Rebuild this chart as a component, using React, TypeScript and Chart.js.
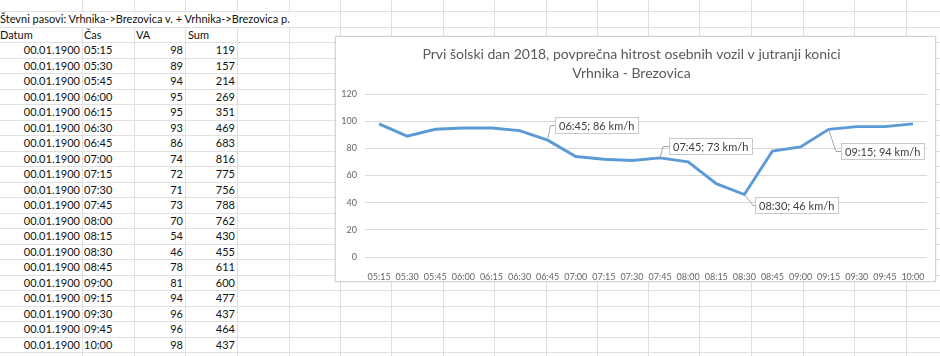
import React, { useEffect, useRef } from "react";
import { Chart, registerables } from "chart.js";

Chart.register(...registerables);

// ---------- data ----------
const sheetTitle = "Števni pasovi: Vrhnika->Brezovica v. + Vrhnika->Brezovica p.";
const headers = ["Datum", "Čas", "VA", "Sum"];
const dateText = "00.01.1900";
const times = [
  "05:15", "05:30", "05:45", "06:00", "06:15", "06:30", "06:45", "07:00", "07:15", "07:30",
  "07:45", "08:00", "08:15", "08:30", "08:45", "09:00", "09:15", "09:30", "09:45", "10:00",
];
const speeds = [98, 89, 94, 95, 95, 93, 86, 74, 72, 71, 73, 70, 54, 46, 78, 81, 94, 96, 96, 98];
const sums = [119, 157, 214, 269, 351, 469, 683, 816, 775, 756, 788, 762, 430, 455, 611, 600, 477, 437, 464, 437];
const chartTitle = [
  "Prvi šolski dan 2018, povprečna hitrost osebnih vozil v jutranji konici",
  "Vrhnika - Brezovica",
];
const yMin = 0;
const yMax = 120;
const yStep = 20;
const labeledTimes = ["06:45", "07:45", "08:30", "09:15"];
const unit = "km/h";

// ---------- styles ----------
const FONT = "Lato, 'Open Sans', sans-serif";
const calloutStyles = [
  { dx: 7.6, dy: -14.7, gap: 4.5 },
  { dx: 9.3, dy: -11.9, gap: 6 },
  { dx: 10.6, dy: 10.6, gap: 2 },
  { dx: 12.3, dy: 22, gap: 5 },
];

const calloutPlugin = {
  id: "callouts",
  afterDatasetsDraw(chart: any) {
    const ctx = chart.ctx as CanvasRenderingContext2D;
    const meta = chart.getDatasetMeta(0);
    ctx.save();
    ctx.font = `11px ${FONT}`;
    labeledTimes.forEach((t, j) => {
      const i = times.indexOf(t);
      const pt = meta.data[i];
      const st = calloutStyles[j];
      const text = `${times[i]}; ${speeds[i]} ${unit}`;
      const padX = 4;
      const w = Math.round(ctx.measureText(text).width + padX * 2);
      const h = 16;
      const left = Math.round(pt.x + st.dx);
      const cy = Math.round(pt.y + st.dy);
      ctx.strokeStyle = "#a6a6a6";
      ctx.lineWidth = 1;
      ctx.beginPath();
      ctx.moveTo(pt.x, pt.y);
      ctx.lineTo(left - st.gap, cy + 0.5);
      ctx.lineTo(left, cy + 0.5);
      ctx.stroke();
      ctx.fillStyle = "#ffffff";
      ctx.fillRect(left, cy - h / 2, w, h);
      ctx.strokeStyle = "#c8c8c8";
      ctx.strokeRect(left + 0.5, cy - h / 2 + 0.5, w, h);
      ctx.fillStyle = "#404040";
      ctx.textBaseline = "middle";
      ctx.textAlign = "left";
      ctx.fillText(text, left + padX, cy + 1);
    });
    ctx.restore();
  },
};

const COLS = [82, 133.5, 185, 237, 288.5, 340, 391, 442.7, 494, 545.7, 597, 648, 699, 751, 802.7, 854, 905.7];
const ROW0 = 11.2;
const ROWH = 15.5;

function cellStyle(k: number, left: number, width: number, align: "left" | "right"): React.CSSProperties {
  return {
    position: "absolute",
    top: Math.round(ROW0 + ROWH * k),
    left,
    width,
    height: ROWH,
    lineHeight: `${ROWH + 1}px`,
    textAlign: align,
    fontFamily: FONT,
    fontSize: 11,
    color: "#111",
    whiteSpace: "nowrap",
  };
}

export default function App() {
  const canvasRef = useRef<HTMLCanvasElement | null>(null);

  useEffect(() => {
    if (!canvasRef.current) return;
    const chart = new Chart(canvasRef.current, {
      type: "line",
      data: {
        labels: times,
        datasets: [
          {
            data: speeds,
            borderColor: "#5B9BD5",
            borderWidth: 2.9,
            pointRadius: 0,
            tension: 0,
            fill: false,
          },
        ],
      },
      options: {
        animation: false,
        responsive: false,
        maintainAspectRatio: false,
        layout: { padding: { left: 0, right: 8, top: 0, bottom: 0 } },
        plugins: {
          legend: { display: false },
          tooltip: { enabled: false },
          title: {
            display: true,
            text: chartTitle,
            color: "#595959",
            font: { family: FONT, size: 14, weight: "normal", lineHeight: "19px" },
            padding: { top: 8, bottom: 11 },
          },
        },
        scales: {
          x: {
            offset: true,
            grid: { display: false },
            border: { display: false },
            ticks: {
              autoSkip: false,
              maxRotation: 0,
              minRotation: 0,
              padding: 7,
              color: "#666666",
              font: { family: FONT, size: 9 },
            },
            afterFit: (s: any) => {
              s.height = 24;
            },
          },
          y: {
            min: yMin,
            max: yMax,
            grid: { color: "#d9d9d9", lineWidth: 1, drawTicks: false },
            border: { display: false },
            ticks: {
              stepSize: yStep,
              padding: 8,
              color: "#666666",
              font: { family: FONT, size: 9 },
            },
            afterFit: (s: any) => {
              s.width = 29;
            },
          },
        },
      },
      plugins: [calloutPlugin],
    });
    return () => chart.destroy();
  }, []);

  const rowLines: number[] = [];
  for (let k = 0; ROW0 + ROWH * k < 356; k++) rowLines.push(Math.round(ROW0 + ROWH * k));

  return (
    <div
      style={{
        position: "fixed",
        left: 0,
        top: 0,
        width: 940,
        height: 356,
        overflow: "hidden",
        background: "#ffffff",
      }}
    >
      {rowLines.map((y) => (
        <div key={"r" + y} style={{ position: "absolute", left: 0, top: y, width: 940, height: 1, background: "#e0e0e0" }} />
      ))}
      {COLS.map((x) => (
        <div key={"c" + x} style={{ position: "absolute", left: Math.round(x), top: 0, width: 1, height: 356, background: "#e0e0e0" }} />
      ))}
      {/* overflow title cell hides gridlines beneath */}
      <div
        style={{
          ...cellStyle(0, 0, 300, "left"),
          top: Math.round(ROW0) + 1,
          height: ROWH - 1,
          lineHeight: `${ROWH - 1}px`,
          background: "#fff",
          width: 292,
        }}
      >
        {sheetTitle}
      </div>
      <div style={cellStyle(1, 0, 80, "left")}>{headers[0]}</div>
      <div style={cellStyle(1, 84, 48, "left")}>{headers[1]}</div>
      <div style={cellStyle(1, 136, 48, "left")}>{headers[2]}</div>
      <div style={cellStyle(1, 188, 48, "left")}>{headers[3]}</div>
      {times.map((t, i) => (
        <React.Fragment key={t}>
          <div style={cellStyle(i + 2, 0, 80, "right")}>{dateText}</div>
          <div style={cellStyle(i + 2, 84, 48, "left")}>{t}</div>
          <div style={cellStyle(i + 2, 134, 49, "right")}>{speeds[i]}</div>
          <div style={cellStyle(i + 2, 186, 49, "right")}>{sums[i]}</div>
        </React.Fragment>
      ))}
      <div
        style={{
          position: "absolute",
          left: 335,
          top: 36,
          width: 601,
          height: 246,
          boxSizing: "border-box",
          border: "1px solid #d4d4d4",
          background: "#ffffff",
          boxShadow: "0 0 2px rgba(0,0,0,0.12)",
        }}
      >
        <canvas ref={canvasRef} width={599} height={244} style={{ display: "block", width: 599, height: 244 }} />
      </div>
    </div>
  );
}
